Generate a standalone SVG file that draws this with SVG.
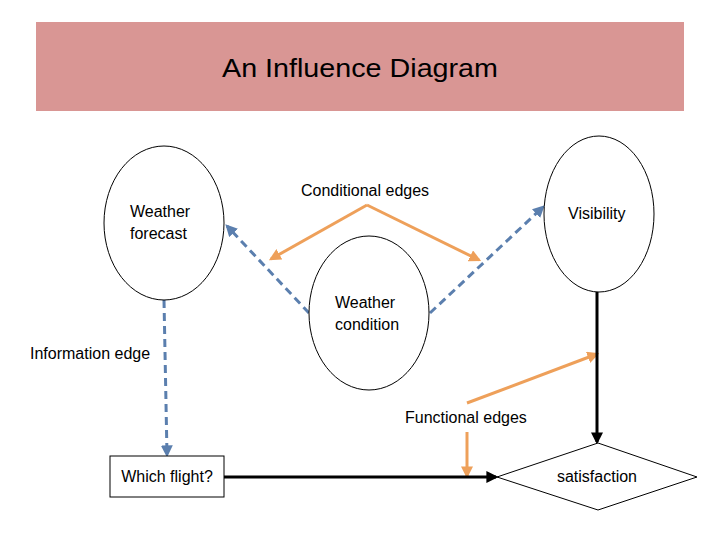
<svg xmlns="http://www.w3.org/2000/svg" width="720" height="540" viewBox="0 0 720 540">
<style>
text{font-family:"Liberation Sans",Arial,sans-serif;fill:#000}
.lbl{font-size:16px}
.node{fill:#fff;stroke:#000;stroke-width:1}
.blue{stroke:#5b7fae;stroke-width:3;stroke-dasharray:8,5;fill:none}
.orange{stroke:#eea05a;stroke-width:3;fill:none}
.black{stroke:#000;stroke-width:3;fill:none}
</style>
<defs>
<marker id="mb" viewBox="0 0 10 10" refX="8" refY="5" markerWidth="4" markerHeight="4" orient="auto" markerUnits="strokeWidth"><path d="M0,0 L10,5 L0,10 z" fill="#5b7fae"/></marker>
<marker id="mo" viewBox="0 0 10 10" refX="8" refY="5" markerWidth="4" markerHeight="4" orient="auto" markerUnits="strokeWidth"><path d="M0,0 L10,5 L0,10 z" fill="#eea05a"/></marker>
<marker id="mk" viewBox="0 0 10 10" refX="8" refY="5" markerWidth="4" markerHeight="4" orient="auto" markerUnits="strokeWidth"><path d="M0,0 L10,5 L0,10 z" fill="#000"/></marker>
</defs>
<rect x="36" y="22" width="648" height="89" fill="#d99694"/>
<text x="360" y="77" font-size="26" text-anchor="middle" textLength="276" lengthAdjust="spacingAndGlyphs">An Influence Diagram</text>
<g id="connectors">
<line class="blue" x1="309" y1="313" x2="227" y2="226" marker-end="url(#mb)"/>
<line class="blue" x1="430" y1="313" x2="543" y2="207" marker-end="url(#mb)"/>
<line class="blue" x1="164" y1="300" x2="167" y2="455" marker-end="url(#mb)"/>
<line class="orange" x1="367" y1="205" x2="271" y2="259" marker-end="url(#mo)"/>
<line class="orange" x1="367" y1="205" x2="479" y2="260" marker-end="url(#mo)"/>
<line class="orange" x1="467" y1="403" x2="597" y2="354" marker-end="url(#mo)"/>
<line class="orange" x1="467" y1="432" x2="467" y2="476" marker-end="url(#mo)"/>
<line class="black" x1="597" y1="292" x2="597" y2="442" marker-end="url(#mk)"/>
<line class="black" x1="224" y1="477" x2="496" y2="477" marker-end="url(#mk)"/>
</g>
<g id="weather-forecast">
<ellipse class="node" cx="164" cy="223" rx="60" ry="77"/>
<text class="lbl" x="130" y="217">Weather</text>
<text class="lbl" x="130" y="239">forecast</text>
</g>
<g id="visibility">
<ellipse class="node" cx="599" cy="214" rx="55" ry="78"/>
<text class="lbl" x="568" y="219">Visibility</text>
</g>
<g id="weather-condition">
<ellipse class="node" cx="369" cy="313" rx="60" ry="77"/>
<text class="lbl" x="335" y="308">Weather</text>
<text class="lbl" x="335" y="330">condition</text>
</g>
<g id="which-flight">
<rect class="node" x="110" y="456" width="114" height="41"/>
<text class="lbl" x="167" y="482" text-anchor="middle">Which flight?</text>
</g>
<g id="satisfaction">
<polygon class="node" points="497,477 598,443 697,477 598,510"/>
<text class="lbl" x="597" y="482" text-anchor="middle">satisfaction</text>
</g>
<g id="labels">
<text class="lbl" x="301" y="196">Conditional edges</text>
<text class="lbl" x="30" y="359">Information edge</text>
<text class="lbl" x="405" y="423">Functional edges</text>
</g>
</svg>
